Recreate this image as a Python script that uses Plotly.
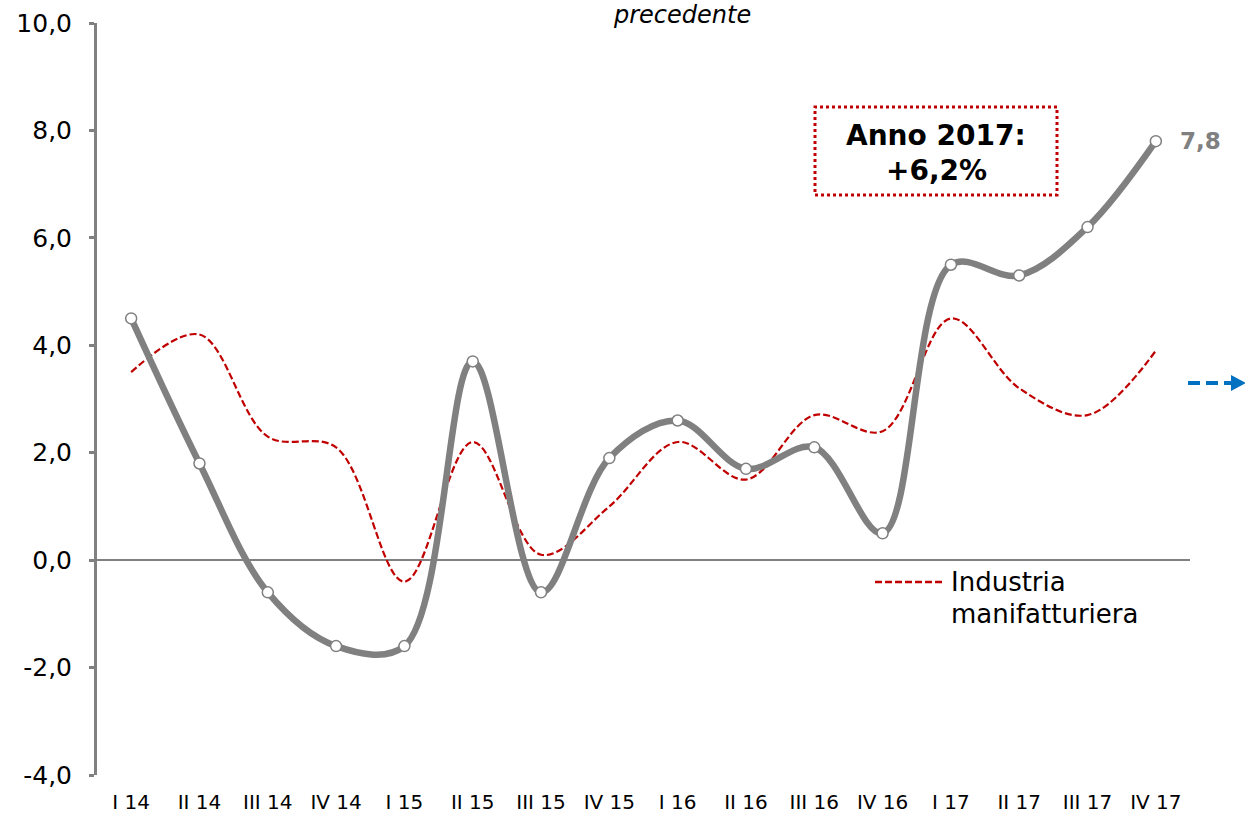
import plotly.graph_objects as go

categories = ["I 14", "II 14", "III 14", "IV 14", "I 15", "II 15", "III 15", "IV 15",
              "I 16", "II 16", "III 16", "IV 16", "I 17", "II 17", "III 17", "IV 17"]
totale = [4.5, 1.8, -0.6, -1.6, -1.6, 3.7, -0.6, 1.9, 2.6, 1.7, 2.1, 0.5, 5.5, 5.3, 6.2, 7.8]
manifatturiera = [3.5, 4.2, 2.3, 2.1, -0.4, 2.2, 0.1, 1.0, 2.2, 1.5, 2.7, 2.4, 4.5, 3.2, 2.7, 3.9]
y_ticks = [-4, -2, 0, 2, 4, 6, 8, 10]
y_tick_labels = ["-4,0", "-2,0", "0,0", "2,0", "4,0", "6,0", "8,0", "10,0"]

GREY = "#808080"
RED = "#C00000"
BLUE = "#0070C0"
FONT = "DejaVu Sans"

L, R, T, B = 97, 1190, 23, 775
W, H = R - L, B - T


def px(x):
    return (x - L) / W


def py(y):
    return (B - y) / H


fig = go.Figure()
fig.add_trace(go.Scatter(
    x=categories, y=manifatturiera, mode="lines", name="Industria manifatturiera",
    line=dict(color=RED, width=2.2, dash="7px,3px", shape="spline", smoothing=1.0),
    showlegend=False, hoverinfo="skip"))
fig.add_trace(go.Scatter(
    x=categories, y=totale, mode="lines+markers", name="Totale",
    line=dict(color=GREY, width=6.5, shape="spline", smoothing=1.0),
    marker=dict(size=11, color="white", line=dict(color=GREY, width=1.5)),
    showlegend=False))

fig.update_layout(
    width=1245, height=815,
    margin=dict(l=L, r=1245 - R, t=T, b=815 - B),
    plot_bgcolor="white", paper_bgcolor="white",
    font=dict(family=FONT, color="black"),
    xaxis=dict(type="category", range=[-0.5, 15.5], showgrid=False, zeroline=False,
               showline=False, ticks="", tickfont=dict(size=20, family=FONT),
               ticklabelstandoff=13, automargin=False),
    yaxis=dict(range=[-4, 10], tickvals=y_ticks, ticktext=y_tick_labels, showgrid=False,
               showline=True, linecolor=GREY, linewidth=3, ticks="outside", ticklen=5,
               tickwidth=2.5, tickcolor=GREY, zeroline=True, zerolinecolor=GREY, zerolinewidth=1.5,
               tickfont=dict(size=25, family=FONT), ticklabelstandoff=12, automargin=False),
)

# title fragment (cut off at top in the reference)
fig.add_annotation(xref="paper", yref="paper", x=px(682), y=py(15), yanchor="middle",
                   xanchor="center", text="<i>precedente</i>", showarrow=False,
                   font=dict(size=24, family=FONT))

# end label
fig.add_annotation(x=categories[-1], y=totale[-1], text="<b>7,8</b>", showarrow=False,
                   xanchor="left", xshift=22, font=dict(size=23, color=GREY, family=FONT))

# annual box
fig.add_shape(type="rect", xref="paper", yref="paper", x0=px(815), x1=px(1057), y0=py(195), y1=py(107),
              line=dict(color=RED, width=3, dash="dot"), fillcolor="rgba(0,0,0,0)")
fig.add_annotation(xref="paper", yref="paper", x=px(936), y=py(135), yanchor="middle",
                   xanchor="center", text="<b>Anno 2017:</b>", showarrow=False,
                   font=dict(size=28, family=FONT, color="black"))
fig.add_annotation(xref="paper", yref="paper", x=px(936), y=py(171), yanchor="middle",
                   xanchor="center", text="<b>+6,2%</b>", showarrow=False,
                   font=dict(size=28, family=FONT, color="black"))

# legend for dashed line
fig.add_shape(type="line", xref="paper", yref="paper", x0=px(875), x1=px(945),
              y0=py(582), y1=py(582), line=dict(color=RED, width=2.5, dash="7px,3px"))
fig.add_annotation(xref="paper", yref="paper", x=px(949), y=py(582), yanchor="middle",
                   text="Industria", showarrow=False, xanchor="left",
                   font=dict(size=26, family=FONT, color="black"))
fig.add_annotation(xref="paper", yref="paper", x=px(949), y=py(614), yanchor="middle",
                   text="manifatturiera", showarrow=False, xanchor="left",
                   font=dict(size=26, family=FONT, color="black"))

# blue dashed arrow at right edge
ya = py(383)
fig.add_shape(type="line", xref="paper", yref="paper", x0=px(1188), x1=px(1232),
              y0=ya, y1=ya, line=dict(color=BLUE, width=4, dash="12px,6px"))
fig.add_shape(type="path", xref="paper", yref="paper",
              path=f"M {px(1231)} {ya + 8 / H} L {px(1246)} {ya} L {px(1231)} {ya - 8 / H} Z",
              fillcolor=BLUE, line=dict(color=BLUE, width=0))

fig.write_html("out.html", config={"displayModeBar": False},
               post_script="document.body.style.margin='0';document.body.style.overflow='hidden';")
